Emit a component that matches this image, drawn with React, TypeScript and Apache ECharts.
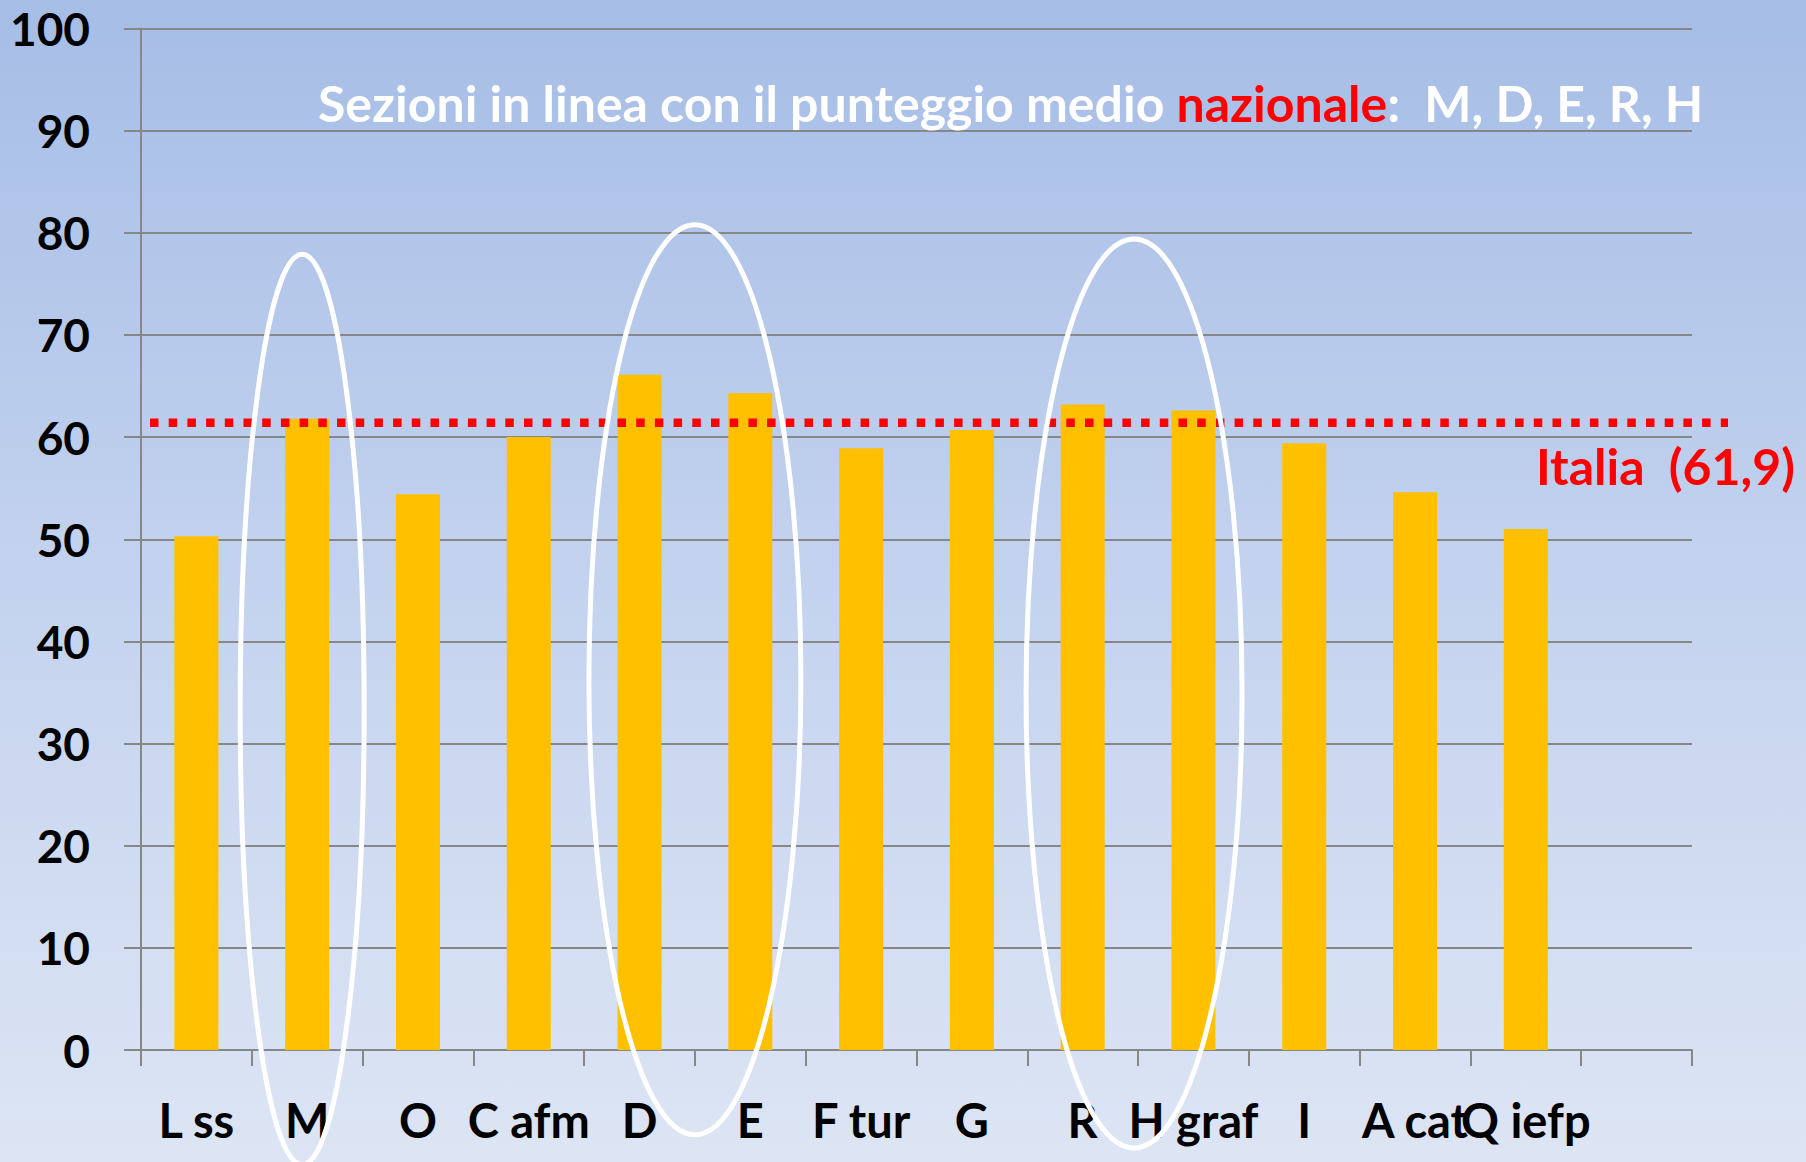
import React, { useEffect, useRef } from 'react';
import * as echarts from 'echarts';

// ---- data ----
const categories = ['L ss', 'M', 'O', 'C afm', 'D', 'E', 'F tur', 'G', 'R', 'H graf', 'I', 'A cat', 'Q iefp', ''];
const scores: (number | null)[] = [50.3, 61.8, 54.4, 60.0, 66.1, 64.3, 58.9, 60.7, 63.2, 62.6, 59.4, 54.6, 51.0, null];
const yMin = 0;
const yMax = 100;
const yInterval = 10;
const italiaLineValue = 61.4; // where the dotted national line sits in the picture
const italiaLabel = 'Italia  (61,9)';
const titleWhiteA = 'Sezioni in linea con il punteggio medio ';
const titleRed = 'nazionale';
const titleWhiteB = ':  M, D, E, R, H';
// highlighted groups (first category, last category, top value, bottom value)
const groupFirst = ['M', 'D', 'R'];
const groupLast = ['M', 'E', 'H graf'];
const groupTop = [77.9, 80.8, 79.4];
const groupBottom = [-11.2, -8.3, -9.6];

// ---- style ----
const FONT = 'Lato, "Open Sans", sans-serif';
const groupRx = [62, 106, 108];
const groupDx = [-5, 0, -4];

export default function App() {
  const ref = useRef<HTMLDivElement>(null);
  useEffect(() => {
    document.body.style.margin = '0';
    const chart = echarts.init(ref.current!, null, { renderer: 'svg' });
    chart.setOption({
      animation: false,
      backgroundColor: {
        type: 'linear', x: 0, y: 0, x2: 0, y2: 1,
        colorStops: [
          { offset: 0, color: '#A6BDE6' },
          { offset: 0.46, color: '#C1D1EE' },
          { offset: 1, color: '#DDE5F4' },
        ],
      },
      grid: { left: 141, right: 114, top: 28.5, bottom: 112, containLabel: false },
      xAxis: {
        type: 'category',
        data: categories,
        boundaryGap: true,
        axisLine: { show: true, lineStyle: { color: '#878787', width: 2 } },
        axisTick: { show: true, interval: 0, length: 16, lineStyle: { color: '#878787', width: 2 } },
        axisLabel: {
          interval: 0,
          margin: 46,
          color: '#000',
          fontFamily: FONT,
          fontWeight: 'bold',
          fontSize: 47,
        },
      },
      yAxis: {
        type: 'value',
        min: yMin,
        max: yMax,
        interval: yInterval,
        axisLine: { show: true, lineStyle: { color: '#878787', width: 2 } },
        axisTick: { show: true, inside: false, length: 17, lineStyle: { color: '#878787', width: 2 } },
        splitLine: { show: true, lineStyle: { color: '#878787', width: 2 } },
        axisLabel: {
          margin: 51,
          color: '#000',
          fontFamily: FONT,
          fontWeight: 'bold',
          fontSize: 46,
        },
      },
      series: [
        {
          type: 'bar',
          data: scores,
          barWidth: 44,
          itemStyle: { color: '#FFC000' },
          z: 2,
        },
      ],
    });

    const yPx = (v: number) => chart.convertToPixel({ yAxisIndex: 0 }, v) as number;
    const xPx = (c: string) => chart.convertToPixel({ xAxisIndex: 0 }, categories.indexOf(c)) as number;

    const ellipses = groupFirst.map((f, i) => {
      const cx = (xPx(f) + xPx(groupLast[i])) / 2 + groupDx[i];
      const top = yPx(groupTop[i]);
      const bottom = yPx(groupBottom[i]);
      return {
        type: 'ellipse',
        shape: { cx, cy: (top + bottom) / 2, rx: groupRx[i], ry: (bottom - top) / 2 },
        style: { fill: 'none', stroke: '#FFFFFF', lineWidth: 5 },
        z: 10,
        silent: true,
      };
    });

    const iy = yPx(italiaLineValue);
    chart.setOption({
      graphic: [
        {
          type: 'line',
          shape: { x1: 150, y1: iy, x2: 1728, y2: iy },
          style: { stroke: '#FF0000', lineWidth: 8.5, lineDash: [8.5, 10.2] },
          z: 9,
          silent: true,
        },
        ...ellipses,
        {
          type: 'text',
          x: 1795,
          y: 466,
          style: {
            text: italiaLabel,
            fill: '#FF0000',
            font: `bold 50px ${FONT}`,
            align: 'right',
            verticalAlign: 'middle',
          },
          z: 11,
        },
        {
          type: 'text',
          x: 318,
          y: 103,
          style: {
            text: `{w|${titleWhiteA}}{r|${titleRed}}{w|${titleWhiteB}}`,
            align: 'left',
            verticalAlign: 'middle',
            rich: {
              w: { fill: '#FFFFFF', fontFamily: FONT, fontWeight: 'bold', fontSize: 50 },
              r: { fill: '#FF0000', fontFamily: FONT, fontWeight: 'bold', fontSize: 50 },
            },
          },
          z: 11,
        },
      ],
    });
    return () => chart.dispose();
  }, []);
  return <div ref={ref} style={{ width: 1806, height: 1162 }} />;
}
